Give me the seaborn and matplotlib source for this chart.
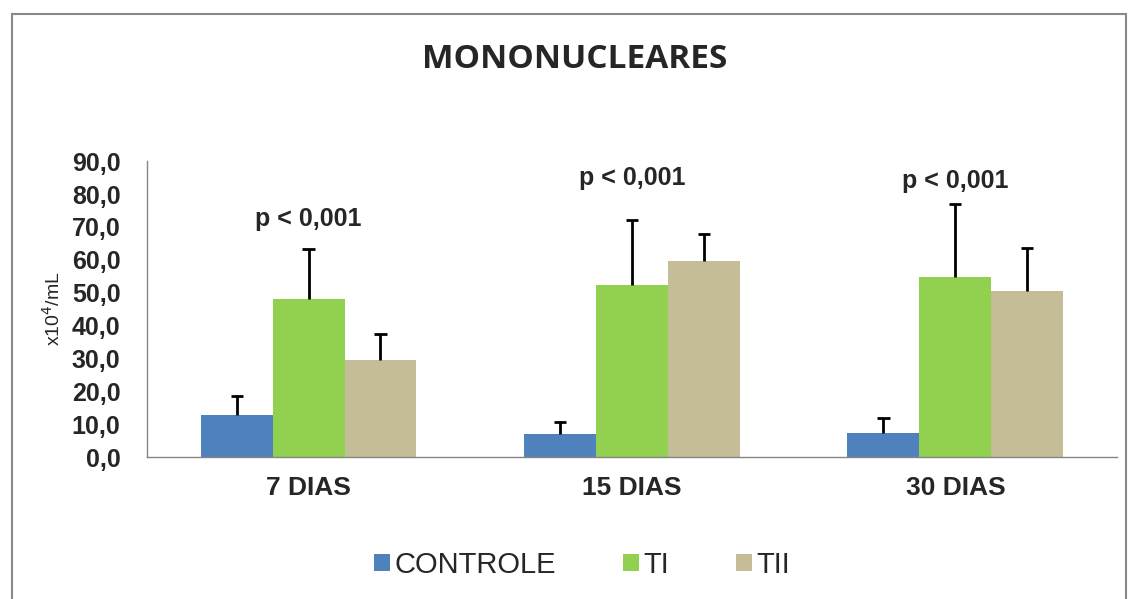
import numpy as np
import pandas as pd
import matplotlib
matplotlib.use('Agg')
import matplotlib.pyplot as plt
import seaborn as sns
from matplotlib.patches import Rectangle

# data
DAYS = ['7 DIAS', '15 DIAS', '30 DIAS']
GROUPS = ['CONTROLE', 'TI', 'TII']
controle_mean = [12.8, 7.0, 7.2]
controle_err = [5.8, 3.8, 4.7]
ti_mean = [48.0, 52.3, 54.8]
ti_err = [15.2, 19.7, 22.3]
tii_mean = [29.5, 59.7, 50.4]
tii_err = [7.9, 8.1, 13.3]
p_labels = ['p < 0,001', 'p < 0,001', 'p < 0,001']
p_heights = [72.5, 85.0, 84.0]
COLORS = ['#4F81BD', '#92D050', '#C4BD97']

sns.set_style('white')
plt.rcParams['font.family'] = ['Liberation Sans', 'DejaVu Sans']

means = {'CONTROLE': controle_mean, 'TI': ti_mean, 'TII': tii_mean}
errs = {'CONTROLE': controle_err, 'TI': ti_err, 'TII': tii_err}
rows = []
for g in GROUPS:
    for d, m, e in zip(DAYS, means[g], errs[g]):
        rows.append({'dia': d, 'grupo': g, 'valor': m, 'erro': e})
df = pd.DataFrame(rows)

fig = plt.figure(figsize=(11.3, 5.99), dpi=100)
ax = fig.add_axes([0.130, 0.237, 0.8585, 0.494])

sns.barplot(data=df, x='dia', y='valor', hue='grupo', order=DAYS, hue_order=GROUPS,
            palette=COLORS, width=0.667, gap=0, errorbar=None, saturation=1,
            edgecolor='none', linewidth=0, ax=ax)

# upward-only error bars (stem + top cap)
cap = 0.019
for container, g in zip(ax.containers, GROUPS):
    for p, e in zip(container.patches, errs[g]):
        xc = p.get_x() + p.get_width() / 2
        top = p.get_height()
        ax.vlines(xc, top, top + e, color='black', linewidth=2, zorder=3)
        ax.hlines(top + e, xc - cap, xc + cap, color='black', linewidth=2, zorder=3)

for i, (txt, h) in enumerate(zip(p_labels, p_heights)):
    ax.text(i, h, txt, ha='center', va='center', fontsize=18, fontweight='bold')

ax.set_ylim(0, 90)
ax.set_xlim(-0.5, 2.5)
ax.set_yticks(np.arange(0, 91, 10))
ax.set_yticklabels([f'{v:.1f}'.replace('.', ',') for v in np.arange(0, 91, 10)],
                   fontsize=18, fontweight='bold')
ax.set_xticks(range(3))
ax.set_xticklabels(DAYS, fontsize=19, fontweight='bold')
ax.set_xticks([-0.5, 0.5, 1.5, 2.5], minor=True)
ax.tick_params(axis='x', which='major', length=0, pad=14)
ax.tick_params(axis='x', which='minor', length=7, color='#868686', direction='out', width=1)
ax.tick_params(axis='y', length=7, color='#868686', direction='out', width=1, pad=12)
ax.set_xlabel('')
ax.set_ylabel('x10$^4$/mL', fontsize=14, labelpad=6)

sns.despine(ax=ax)
for s in ['left', 'bottom']:
    ax.spines[s].set_color('#868686')
    ax.spines[s].set_linewidth(1)

handles, labels = ax.get_legend_handles_labels()
ax.get_legend().remove()
fig.legend(handles, labels, loc='center', bbox_to_anchor=(0.515, 0.057), ncol=3,
           frameon=False, fontsize=21, handlelength=0.55, handleheight=0.55,
           handletextpad=0.15, columnspacing=2.3)

fig.text(0.509, 0.9, 'MONONUCLEARES', ha='center', va='center',
         fontsize=24, fontweight='bold', family=['Open Sans', 'DejaVu Sans'])

fig.patches.append(Rectangle((0.0106, -0.01), 0.986, 0.987, transform=fig.transFigure,
                             fill=False, edgecolor='#888888', linewidth=1.5))

fig.savefig('out.png', dpi=100)
